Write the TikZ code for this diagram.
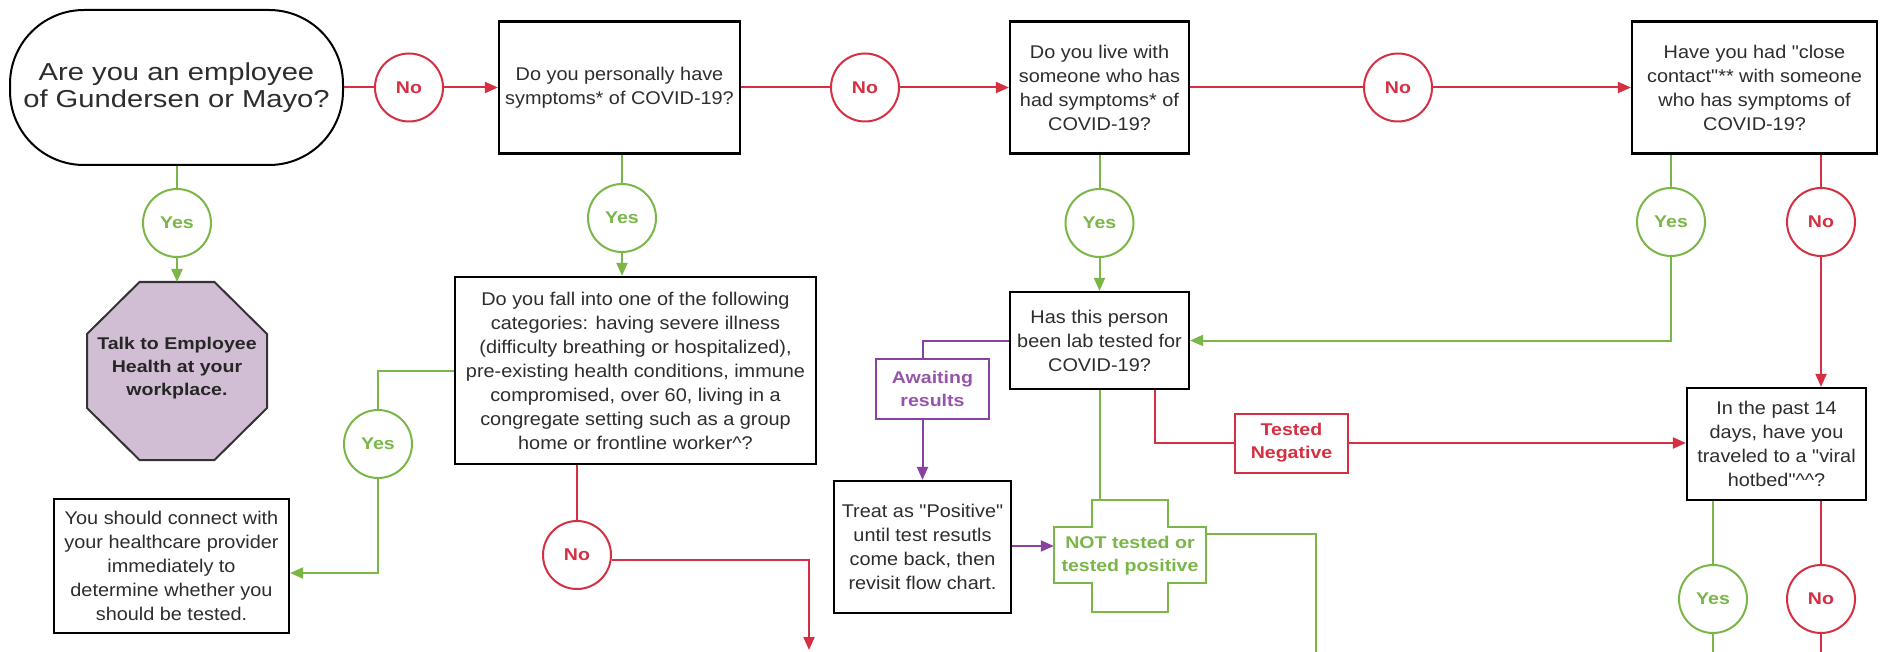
\documentclass[tikz,border=0pt]{standalone}
\usepackage{fontspec}
\setmainfont{Liberation Sans}
\newfontfamily\bodyfont[FakeStretch=1.08]{Liberation Sans}
\newfontfamily\lblfont[FakeStretch=1.15]{Liberation Sans}
\newfontfamily\bigfont[FakeStretch=1.19]{Liberation Sans}
\usetikzlibrary{arrows.meta,shapes.geometric,calc}
\definecolor{cred}{RGB}{212,48,66}
\definecolor{cgrn}{RGB}{122,182,72}
\definecolor{cpur}{RGB}{138,66,160}
\definecolor{cfill}{RGB}{210,190,212}
\definecolor{ctxt}{RGB}{45,45,45}
\tikzset{
  box/.style={draw=black, line width=2.2pt, text=ctxt, align=center, inner sep=2pt,
    font=\bodyfont\fontsize{18.4}{24}\selectfont},
  yesc/.style={circle, draw=cgrn, line width=2pt, text=cgrn, minimum size=68pt, inner sep=0pt,
    font=\lblfont\fontsize{17}{19}\selectfont\bfseries},
  noc/.style={circle, draw=cred, line width=2pt, text=cred, minimum size=68pt, inner sep=0pt,
    font=\lblfont\fontsize{17}{19}\selectfont\bfseries},
  gl/.style={draw=cgrn, line width=2pt},
  rl/.style={draw=cred, line width=2pt},
  pl/.style={draw=cpur, line width=2pt},
  tip/.style={-{Triangle[length=13pt,width=11pt]}},
  lbl/.style={draw, line width=2pt, align=center, inner sep=2pt,
    font=\lblfont\fontsize{17}{23}\selectfont\bfseries},
}
\begin{document}
\begin{tikzpicture}[x=1pt,y=1pt]
\path[use as bounding box, fill=white] (0,0) rectangle (1881,-652);

% nodes
\node[draw=black, line width=2pt, rounded corners=74pt, minimum width=333pt, minimum height=155pt,
  text=ctxt, align=center, font=\bigfont\fontsize{24.5}{27.5}\selectfont] (q1) at (176.5,-87.5)
  {Are you an employee\\of Gundersen or Mayo?};
\node[noc] (n1) at (409,-87.5) {No};
\node[box, minimum width=241pt, minimum height=132pt] (q2) at (619.5,-87.5)
  {Do you personally have\\symptoms* of COVID-19?};
\node[noc] (n2) at (865,-87.5) {No};
\node[box, minimum width=179pt, minimum height=132pt] (q3) at (1099.5,-87.5)
  {Do you live with\\someone who has\\had symptoms* of\\COVID-19?};
\node[noc] (n3) at (1398,-87.5) {No};
\node[box, minimum width=245pt, minimum height=132pt] (q4) at (1754.5,-87.5)
  {Have you had "close\\contact"** with someone\\who has symptoms of\\COVID-19?};

\node[yesc] (y1) at (177,-223) {Yes};
\coordinate (octc) at (177,-371);
\coordinate (octtop) at (177,-282);
\draw[draw=black!80, line width=2pt, fill=cfill]
  ($(octc)+(-37.5,89)$) -- ($(octc)+(37.5,89)$) -- ($(octc)+(90,37)$)
  -- ($(octc)+(90,-37)$) -- ($(octc)+(37.5,-89)$) -- ($(octc)+(-37.5,-89)$)
  -- ($(octc)+(-90,-37)$) -- ($(octc)+(-90,37)$) -- cycle;
\node[align=center, text=black!85, inner sep=0pt,
  font=\lblfont\fontsize{17}{23}\selectfont\bfseries] (oct) at ([yshift=3pt]octc)
  {Talk to Employee\\Health at your\\workplace.};

\node[yesc] (y2) at (622,-218) {Yes};
\node[box, minimum width=361pt, minimum height=187pt] (q5) at (635.5,-370.5)
  {Do you fall into one of the following\\categories: having severe illness\\(difficulty breathing or hospitalized),\\pre-existing health conditions, immune\\compromised, over 60, living in a\\congregate setting such as a group\\home or frontline worker\^{}?};
\node[yesc] (y5) at (378,-444) {Yes};
\node[box, minimum width=235pt, minimum height=134pt] (r1) at (171.5,-566)
  {You should connect with\\your healthcare provider\\immediately to\\determine whether you\\should be tested.};
\node[noc] (n5) at (577,-555) {No};
\coordinate (c1) at (809,-650);

\node[yesc] (y3) at (1099.5,-223) {Yes};
\node[box, minimum width=179pt, minimum height=97pt] (q6) at (1099.5,-340.5)
  {Has this person\\been lab tested for\\COVID-19?};
\node[lbl, draw=cpur, text=cpur!90, minimum width=113pt, minimum height=60pt] (aw) at (932.5,-389)
  {Awaiting\\results};
\node[box, minimum width=177pt, minimum height=132pt] (tr) at (922.5,-547)
  {Treat as "Positive"\\until test resutls\\come back, then\\revisit flow chart.};
\node[text=cgrn, align=center, minimum width=152pt, minimum height=112pt, inner sep=0pt,
  font=\lblfont\fontsize{17}{23}\selectfont\bfseries] (cr) at (1130,-556)
  {NOT tested or\\tested positive};
\draw[gl] ($(cr.center)+(-37.75,56)$) -- ($(cr.center)+(37.75,56)$) -- ($(cr.center)+(37.75,29)$)
  -- ($(cr.center)+(76,29)$) -- ($(cr.center)+(76,-27)$) -- ($(cr.center)+(37.75,-27)$)
  -- ($(cr.center)+(37.75,-56)$) -- ($(cr.center)+(-37.75,-56)$) -- ($(cr.center)+(-37.75,-27)$)
  -- ($(cr.center)+(-76,-27)$) -- ($(cr.center)+(-76,29)$) -- ($(cr.center)+(-37.75,29)$) -- cycle;
\coordinate (c2) at (1316,-652);
\node[lbl, draw=cred, text=cred, minimum width=113pt, minimum height=59pt] (tn) at (1291.5,-443)
  {Tested\\Negative};

\node[yesc] (y4) at (1671,-222) {Yes};
\node[noc] (n4) at (1821,-222) {No};
\node[box, minimum width=179pt, minimum height=112pt] (q7) at (1776.5,-444)
  {In the past 14\\days, have you\\traveled to a "viral\\hotbed"\^{}\^{}?};
\node[yesc] (y7) at (1713,-599) {Yes};
\node[noc] (n7) at (1821,-599) {No};
\coordinate (c3) at (1713,-652);
\coordinate (c4) at (1821,-652);

% connectors
\draw[rl] (q1) -- (n1);
\draw[rl,tip] (n1) -- (q2);
\draw[rl] (q2) -- (n2);
\draw[rl,tip] (n2) -- (q3);
\draw[rl] (q3) -- (n3);
\draw[rl,tip] (n3) -- (q4);

\draw[gl] (q1.south -| y1) -- (y1);
\draw[gl,tip] (y1) -- (octtop);

\draw[gl] (q2.south -| y2) -- (y2);
\draw[gl,tip] (y2) -- (y2 |- q5.north);
\draw[gl] (q5.west) -| (y5);
\draw[gl,tip] (y5) |- ([yshift=-7pt]r1.east);
\draw[rl] (q5.south -| n5) -- (n5);
\draw[rl,tip] ([yshift=-5pt]n5.east) -| (c1);

\draw[gl] (q3) -- (y3);
\draw[gl,tip] (y3) -- (q6);
\draw[pl] (q6.west) -| (aw.north -| tr.north);
\draw[pl,tip] (aw.south -| tr.north) -- (tr.north);
\draw[pl,tip] ([yshift=1pt]tr.east) -- ([yshift=1pt]tr.east -| cr.west);
\draw[gl] (q6.south -| y3) -- (cr.north -| y3);
\draw[gl] ([yshift=22pt]cr.east) -| (c2);
\draw[rl] ([xshift=55.5pt]q6.south) |- (tn.west);
\draw[rl,tip] (tn.east) -- (tn.east -| q7.west);

\draw[gl] (q4.south -| y4) -- (y4);
\draw[gl,tip] (y4) |- (q6.east);
\draw[rl] (q4.south -| n4) -- (n4);
\draw[rl,tip] (n4) -- (n4 |- q7.north);
\draw[gl] (q7.south -| y7) -- (y7);
\draw[gl] (y7) -- (c3);
\draw[rl] (q7.south -| n7) -- (n7);
\draw[rl] (n7) -- (c4);
\end{tikzpicture}
\end{document}
